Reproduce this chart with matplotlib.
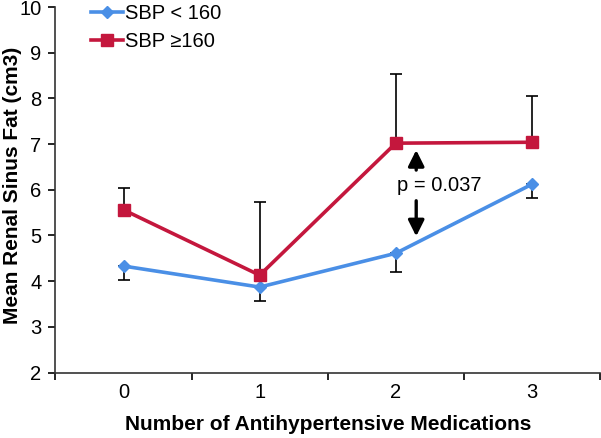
import matplotlib
matplotlib.use("Agg")
import matplotlib.pyplot as plt
import numpy as np

plt.rcParams['font.family'] = ['Liberation Sans', 'DejaVu Sans']

meds = [0, 1, 2, 3]
low_sbp = [4.33, 3.87, 4.61, 6.12]        # SBP < 160
low_sbp_err_lo = [4.02, 3.56, 4.20, 5.82]  # lower end of error bar
high_sbp = [5.56, 4.13, 7.02, 7.04]       # SBP >= 160
high_sbp_err_hi = [6.04, 5.73, 8.53, 8.05] # upper end of error bar

blue = '#4A8FE6'
red = '#C4173D'

fig = plt.figure(figsize=(6.01, 4.38), dpi=100)
ax = fig.add_axes([0.0923, 0.1495, 0.906, 0.8345])

x = np.array(meds)
lo = np.array(low_sbp)
hi = np.array(high_sbp)

# one-sided error bars
ax.errorbar(x, lo, yerr=[lo - np.array(low_sbp_err_lo), np.zeros(4)],
            fmt='none', ecolor='black', elinewidth=1.2, capsize=4, capthick=1.2, zorder=2)
ax.errorbar(x, hi, yerr=[np.zeros(4), np.array(high_sbp_err_hi) - hi],
            fmt='none', ecolor='black', elinewidth=1.2, capsize=4, capthick=1.2, zorder=2)

ax.plot(x, lo, color=blue, lw=2.6, marker='D', ms=6.5, label='SBP < 160', zorder=3)
ax.plot(x, hi, color=red, lw=2.6, marker='s', ms=8.5, label='SBP \u2265160', zorder=3)

# p-value annotation
ax.annotate('', xy=(2.15, 6.93), xytext=(2.15, 6.37),
            arrowprops=dict(arrowstyle='-|>', color='black', lw=2.4, mutation_scale=24))
ax.annotate('', xy=(2.15, 4.92), xytext=(2.15, 5.82),
            arrowprops=dict(arrowstyle='-|>', color='black', lw=2.4, mutation_scale=24))
ax.text(2.32, 6.1, 'p = 0.037', ha='center', va='center', fontsize=14.5)

ax.set_xlim(-0.5, 3.5)
ax.set_ylim(2, 10)
ax.set_yticks(range(2, 11))
ax.set_xticks(meds)
ax.set_xticks([-0.5, 0.5, 1.5, 2.5, 3.5], minor=True)
ax.tick_params(axis='x', which='major', length=0, pad=7.5, labelsize=14.5)
ax.tick_params(axis='x', which='minor', length=5, width=1.2, direction='out')
ax.tick_params(axis='y', length=5, width=1.2, direction='out', labelsize=14.5, pad=5)

for s in ['top', 'right']:
    ax.spines[s].set_visible(False)
for s in ['left', 'bottom']:
    ax.spines[s].set_linewidth(1.2)
    ax.spines[s].set_color('#333333')

ax.set_xlabel('Number of Antihypertensive Medications', fontsize=15, fontweight='bold')
ax.set_ylabel('Mean Renal Sinus Fat (cm3)', fontsize=15, fontweight='bold')
ax.xaxis.set_label_coords(0.5, -0.1163)
ax.yaxis.set_label_coords(-0.0623, 0.513)

ax.legend(loc='upper left', bbox_to_anchor=(0.05, 1.03), frameon=False, fontsize=14.5,
          handlelength=1.6, handletextpad=0.1, labelspacing=0.45, borderaxespad=0)

fig.savefig('out.png', dpi=100)
